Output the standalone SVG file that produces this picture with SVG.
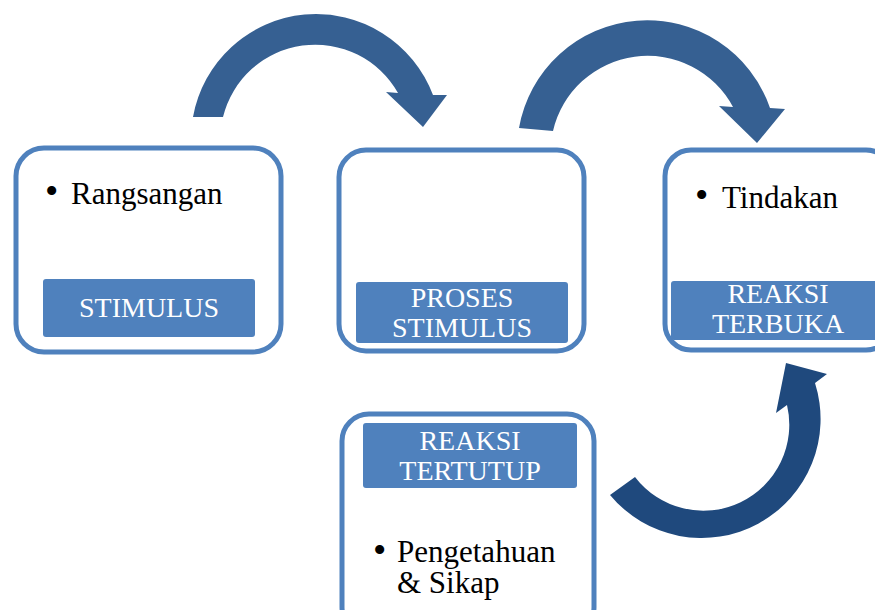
<svg xmlns="http://www.w3.org/2000/svg" width="875" height="610" viewBox="0 0 875 610">
<style>
.box{fill:#FFFFFF;stroke:#4F81BD;stroke-width:5}
.lab{fill:#4F81BD}
.lt{font-family:"Liberation Serif","Times New Roman",serif;font-size:28px;fill:#FFFFFF;text-anchor:middle}
.bt{font-family:"Liberation Serif","Times New Roman",serif;font-size:31px;fill:#000000}
.bu{font-size:38px}
.a1{fill:#366092}
.a2{fill:#1F497D}
</style>
<rect width="875" height="610" fill="#FFFFFF"/>
<g id="connectors">
<path class="a1" d="M193,117 A125,125 0 0 1 433,95 L447,95 L423,127 L386,92 L398,93 A95,95 0 0 0 223,117 Z"/>
<path class="a1" d="M519,128 A130,130 0 0 1 770,108 L785,109 L757,143 L719,106 L733,107 A97,97 0 0 0 553,131 Z"/>
<path class="a2" d="M610,495 A119,119 0 0 0 815,383 L827,374 L786,363 L776,413 L787,405 A86,86 0 0 1 635,477 Z"/>
</g>
<g id="stimulus">
<rect class="box" x="16" y="148" width="265" height="204" rx="28"/>
<rect class="lab" x="43" y="279" width="212" height="58" rx="3"/>
<text class="lt" x="149" y="317">STIMULUS</text>
<text class="bt" y="204"><tspan class="bu" x="45">•</tspan><tspan x="71">Rangsangan</tspan></text>
</g>
<g id="proses-stimulus">
<rect class="box" x="339" y="150" width="245" height="201" rx="27"/>
<rect class="lab" x="356" y="282" width="212" height="61" rx="3"/>
<text class="lt" x="462" y="307">PROSES</text>
<text class="lt" x="462" y="337">STIMULUS</text>
</g>
<g id="reaksi-terbuka">
<rect class="box" x="665" y="150" width="227" height="200" rx="26"/>
<rect class="lab" x="671" y="281" width="214" height="59" rx="3"/>
<text class="lt" x="778" y="303">REAKSI</text>
<text class="lt" x="778" y="333">TERBUKA</text>
<text class="bt" y="208"><tspan class="bu" x="695">•</tspan><tspan x="722">Tindakan</tspan></text>
</g>
<g id="reaksi-tertutup">
<rect class="box" x="342" y="414" width="252" height="220" rx="27"/>
<rect class="lab" x="363" y="423" width="214" height="65" rx="3"/>
<text class="lt" x="470" y="450">REAKSI</text>
<text class="lt" x="470" y="480">TERTUTUP</text>
<text class="bt"><tspan class="bu" x="373" y="563">•</tspan><tspan x="397" y="562">Pengetahuan</tspan><tspan x="397" y="593">&amp; Sikap</tspan></text>
</g>
</svg>
